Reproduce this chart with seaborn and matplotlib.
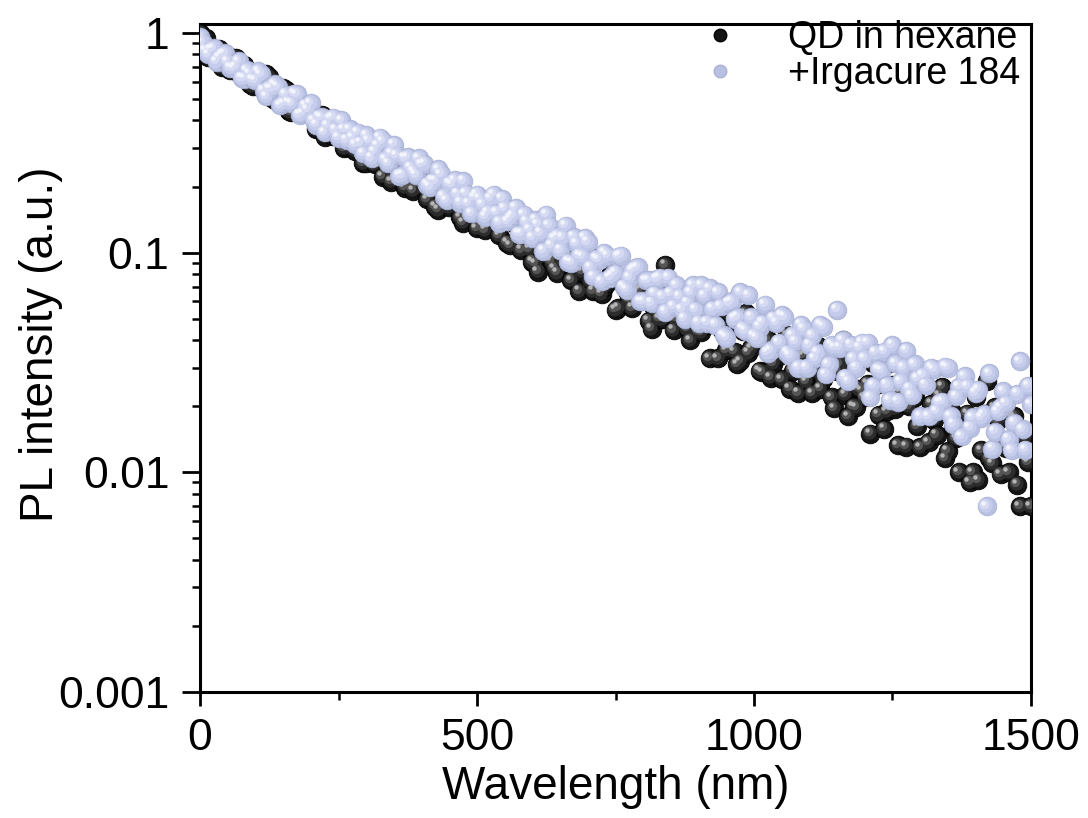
import numpy as np
import pandas as pd
import seaborn as sns
import matplotlib
matplotlib.use("Agg")
import matplotlib.pyplot as plt
from matplotlib import transforms
from matplotlib.lines import Line2D
from matplotlib.ticker import LogLocator, NullFormatter, FixedLocator

# ---------------- data ----------------
# samples on the 10 nm grid
wavelength = list(range(0, 1501, 10))
# samples half-way between them
wavelength_half = list(range(5, 1500, 10))

qd_hexane = [
    1.00, 0.948, 0.814, 0.832, 0.70, 0.784, 0.717, 0.657, 0.713, 0.587,
    0.639, 0.576, 0.65, 0.507, 0.53, 0.56, 0.441, 0.514, 0.454, 0.457,
    0.454, 0.365, 0.425, 0.383, 0.341, 0.391, 0.30, 0.329, 0.292, 0.332,
    0.257, 0.267, 0.29, 0.222, 0.271, 0.236, 0.239, 0.198, 0.253, 0.207,
    0.204, 0.175, 0.214, 0.157, 0.183, 0.161, 0.195, 0.145, 0.157, 0.171,
    0.129, 0.157, 0.139, 0.143, 0.12, 0.153, 0.108, 0.134, 0.103, 0.13,
    0.091, 0.082, 0.097, 0.129, 0.085, 0.095, 0.109, 0.075, 0.098, 0.082,
    0.085, 0.067, 0.094, 0.070, 0.079, 0.055, 0.077, 0.067, 0.056, 0.074,
    0.073, 0.049, 0.056, 0.050, 0.088, 0.059, 0.050, 0.053, 0.045, 0.059,
    0.044, 0.052, 0.033, 0.053, 0.045, 0.036, 0.052, 0.031, 0.044, 0.035,
    0.046, 0.029, 0.042, 0.027, 0.035, 0.0265, 0.042, 0.029, 0.023, 0.034,
    0.035, 0.029, 0.024, 0.035, 0.022, 0.029, 0.040, 0.018, 0.020, 0.024,
    0.022, 0.015, 0.025, 0.0315, 0.019, 0.025, 0.0133, 0.026, 0.020, 0.022,
    0.013, 0.018, 0.0205, 0.0148, 0.0245, 0.0125, 0.0159, 0.010, 0.016, 0.009,
    0.022, 0.0126, 0.026, 0.011, 0.0173, 0.0137, 0.010, 0.018, 0.007, 0.0144,
    0.007,
]
qd_hexane_half = [
    0.929, 0.78, 0.831, 0.848, 0.726, 0.678, 0.77, 0.668, 0.67, 0.573,
    0.661, 0.561, 0.631, 0.498, 0.52, 0.549, 0.436, 0.496, 0.44, 0.443,
    0.417, 0.421, 0.338, 0.403, 0.344, 0.388, 0.302, 0.31, 0.327, 0.256,
    0.293, 0.253, 0.261, 0.274, 0.211, 0.245, 0.26, 0.205, 0.192, 0.248,
    0.196, 0.213, 0.162, 0.192, 0.166, 0.171, 0.178, 0.137, 0.161, 0.172,
    0.136, 0.127, 0.165, 0.135, 0.141, 0.111, 0.141, 0.117, 0.138, 0.104,
    0.089, 0.113, 0.124, 0.091, 0.081, 0.117, 0.089, 0.095, 0.067, 0.095,
    0.074, 0.095, 0.065, 0.073, 0.083, 0.056, 0.073, 0.061, 0.064, 0.068,
    0.062, 0.045, 0.064, 0.050, 0.065, 0.0445, 0.0505, 0.0585, 0.040, 0.0524,
    0.0435, 0.047, 0.0523, 0.033, 0.0455, 0.053, 0.0355, 0.032, 0.053, 0.0367,
    0.046, 0.0285, 0.040, 0.0313, 0.034, 0.038, 0.024, 0.0326, 0.0384, 0.0259,
    0.0229, 0.0378, 0.0266, 0.0298, 0.0196, 0.0309, 0.0226, 0.0322, 0.0198, 0.0235,
    0.0253, 0.0315, 0.0183, 0.0158, 0.0315, 0.0195, 0.023, 0.0131, 0.0247, 0.0162,
    0.0264, 0.0137, 0.0174, 0.0224, 0.0116, 0.0193, 0.0143, 0.016, 0.0185, 0.010,
    0.0092, 0.0185, 0.0116, 0.0198, 0.0098, 0.0129, 0.0177, 0.0088, 0.0153, 0.0111,
]

irgacure = [
    0.96, 0.83, 0.84, 0.74, 0.80, 0.74, 0.69, 0.745, 0.62, 0.655,
    0.61, 0.65, 0.515, 0.557, 0.568, 0.48, 0.484, 0.53, 0.424, 0.466,
    0.48, 0.383, 0.414, 0.381, 0.412, 0.334, 0.364, 0.364, 0.311, 0.316,
    0.343, 0.27, 0.309, 0.321, 0.255, 0.31, 0.224, 0.27, 0.245, 0.226,
    0.252, 0.204, 0.212, 0.24, 0.18, 0.207, 0.214, 0.169, 0.186, 0.151,
    0.184, 0.166, 0.153, 0.184, 0.137, 0.159, 0.143, 0.16, 0.122, 0.138,
    0.117, 0.134, 0.102, 0.133, 0.116, 0.103, 0.133, 0.090, 0.11, 0.096,
    0.112, 0.078, 0.093, 0.10, 0.077, 0.081, 0.097, 0.068, 0.083, 0.086,
    0.060, 0.075, 0.065, 0.077, 0.054, 0.065, 0.071, 0.055, 0.059, 0.071,
    0.048, 0.064, 0.069, 0.047, 0.057, 0.041, 0.06, 0.051, 0.045, 0.064,
    0.042, 0.046, 0.058, 0.036, 0.048, 0.052, 0.035, 0.042, 0.030, 0.045,
    0.038, 0.033, 0.047, 0.028, 0.038, 0.055, 0.040, 0.026, 0.033, 0.037,
    0.033, 0.022, 0.035, 0.029, 0.025, 0.038, 0.021, 0.030, 0.024, 0.031,
    0.018, 0.025, 0.030, 0.019, 0.021, 0.030, 0.0166, 0.0245, 0.0274, 0.016,
    0.023, 0.0177, 0.007, 0.0128, 0.019, 0.0234, 0.0142, 0.0168, 0.032, 0.0127,
    0.0204,
]
irgacure_half = [
    0.906, 0.80, 0.854, 0.773, 0.81, 0.697, 0.706, 0.625, 0.676, 0.615,
    0.669, 0.546, 0.56, 0.585, 0.469, 0.524, 0.479, 0.526, 0.431, 0.447,
    0.401, 0.415, 0.353, 0.408, 0.362, 0.40, 0.326, 0.335, 0.352, 0.284,
    0.325, 0.29, 0.334, 0.266, 0.284, 0.278, 0.226, 0.272, 0.235, 0.269,
    0.254, 0.199, 0.212, 0.228, 0.173, 0.205, 0.185, 0.212, 0.167, 0.179,
    0.176, 0.146, 0.176, 0.152, 0.176, 0.139, 0.148, 0.122, 0.149, 0.128,
    0.141, 0.123, 0.149, 0.108, 0.119, 0.117, 0.091, 0.118, 0.097, 0.117,
    0.086, 0.094, 0.074, 0.097, 0.079, 0.096, 0.070, 0.077, 0.085, 0.060,
    0.075, 0.059, 0.076, 0.063, 0.077, 0.057, 0.063, 0.050, 0.066, 0.055,
    0.071, 0.048, 0.0555, 0.066, 0.042, 0.059, 0.050, 0.066, 0.044, 0.051,
    0.041, 0.048, 0.035, 0.050, 0.039, 0.051, 0.034, 0.0395, 0.047, 0.030,
    0.042, 0.035, 0.046, 0.031, 0.037, 0.037, 0.027, 0.038, 0.030, 0.039,
    0.039, 0.0248, 0.0295, 0.0355, 0.0213, 0.0314, 0.026, 0.0358, 0.0224, 0.0268,
    0.0276, 0.018, 0.0294, 0.0208, 0.0303, 0.018, 0.0222, 0.0146, 0.0246, 0.0178,
    0.0238, 0.0184, 0.0282, 0.0153, 0.0198, 0.0206, 0.0126, 0.0228, 0.0157, 0.0248,
]

series_labels = ["QD in hexane", "+Irgacure 184"]
x_ticks = [0, 500, 1000, 1500]
y_ticks = [0.001, 0.01, 0.1, 1]
y_tick_labels = ["0.001", "0.01", "0.1", "1"]

df = pd.concat([
    pd.DataFrame({"wl": wavelength + wavelength_half,
                  "pl": qd_hexane + qd_hexane_half, "sample": series_labels[0]}),
    pd.DataFrame({"wl": wavelength + wavelength_half,
                  "pl": irgacure + irgacure_half, "sample": series_labels[1]}),
]).sort_values(["sample", "wl"], kind="stable")

# ---------------- style ----------------
sns.set_theme(style="ticks")
plt.rcParams["font.family"] = ["Liberation Sans", "DejaVu Sans"]
plt.rcParams["text.color"] = "black"
plt.rcParams["axes.labelcolor"] = "black"

fig = plt.figure(figsize=(10.88, 8.18), dpi=100)
ax = fig.add_axes([200 / 1088, 126 / 818, 831 / 1088, 668 / 818])

# shaded-sphere look: base disc + lighter, smaller, offset discs
shades = {
    series_labels[0]: dict(base="#141414", edge="#000000",
                           layers=[("#2c2c2c", 105, 1.2), ("#555555", 45, 2.4), ("#b5b5b5", 10, 3.6)]),
    series_labels[1]: dict(base="#b9c1e2", edge="#a9b1d6",
                           layers=[("#c5ccec", 105, 1.2), ("#d6dbf3", 45, 2.4), ("#f2f4fc", 10, 3.6)]),
}
base_size = 180

for lab in series_labels:
    sub = df[df["sample"] == lab]
    sh = shades[lab]
    sns.scatterplot(data=sub, x="wl", y="pl", ax=ax, s=base_size,
                    color=sh["base"], edgecolor=sh["edge"], linewidth=0.6,
                    legend=False, zorder=3)
    for col, s, off in sh["layers"]:
        tr = transforms.offset_copy(ax.transData, fig=fig, x=-off, y=off, units="dots")
        ax.scatter(sub["wl"], sub["pl"], s=s, color=col, linewidths=0,
                   transform=tr, zorder=3)

ax.set_yscale("log")
ax.set_xlim(0, 1500)
ax.set_ylim(0.001, 1.1)
ax.set_xticks(x_ticks)
ax.set_xticklabels([str(t) for t in x_ticks])
ax.xaxis.set_minor_locator(FixedLocator([250, 750, 1250]))
ax.set_yticks(y_ticks)
ax.set_yticklabels(y_tick_labels)
ax.yaxis.set_minor_locator(LogLocator(base=10, subs=np.arange(2, 10)))
ax.yaxis.set_minor_formatter(NullFormatter())

for sp in ax.spines.values():
    sp.set_visible(True)
    sp.set_linewidth(2.2)
    sp.set_color("black")

ax.tick_params(axis="both", which="major", direction="out", length=10, width=2,
               labelsize=32, pad=9, colors="black")
ax.tick_params(axis="both", which="minor", direction="out", length=6, width=1.8,
               colors="black")
ax.tick_params(axis="y", which="major", length=13)

ax.set_xlabel("Wavelength (nm)", fontsize=33, labelpad=4, color="black")
ax.set_ylabel("PL intensity (a.u.)", fontsize=33, color="black")
ax.yaxis.set_label_coords(-0.165, 0.52)

handles = [
    Line2D([], [], marker="o", linestyle="none", markersize=9,
           markerfacecolor="#141414", markeredgecolor="#000000"),
    Line2D([], [], marker="o", linestyle="none", markersize=9,
           markerfacecolor="#b9c1e2", markeredgecolor="#a9b1d6"),
]
ax.legend(handles, series_labels, loc="upper right",
          bbox_to_anchor=((1020 - 200) / 831, (692 - 20) / 668),
          frameon=False, fontsize=27, handletextpad=1.0, labelspacing=0.0,
          borderaxespad=0, borderpad=0, handlelength=1.6)

fig.savefig("out.png", dpi=100)
